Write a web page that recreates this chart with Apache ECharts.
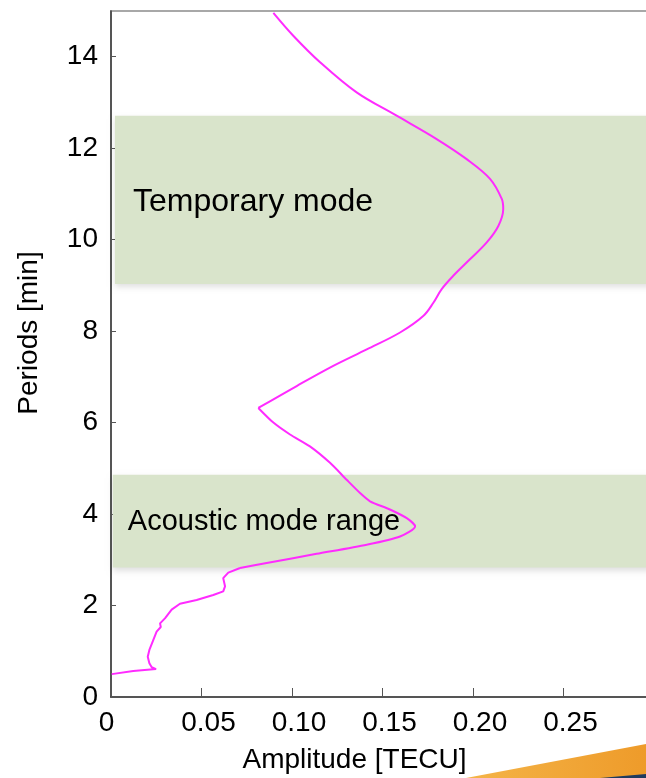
<!DOCTYPE html>
<html>
<head>
<meta charset="utf-8">
<script src="https://cdn.jsdelivr.net/npm/echarts@6/dist/echarts.min.js"></script>
<style>
  html, body { margin: 0; padding: 0; background: #ffffff; }
  #chart { width: 646px; height: 778px; }
</style>
</head>
<body>
<div id="chart"></div>
<script>
// Spectrum of TEC oscillation amplitude against period
const amplitude = [
  0.0897, 0.1007, 0.1155, 0.1357, 0.1578, 0.1799, 0.1965, 0.2094, 0.2159, 0.2167,
  0.2140, 0.2076, 0.1983, 0.1891, 0.1827, 0.1781, 0.1725, 0.1597, 0.1413, 0.1228,
  0.1026, 0.0814, 0.0897, 0.0989, 0.1099, 0.1210, 0.1302, 0.1376, 0.1431, 0.1541,
  0.1634, 0.1680, 0.1597, 0.1413, 0.1136, 0.0860, 0.0713, 0.0648, 0.0620, 0.0630,
  0.0620, 0.0565, 0.0473, 0.0381, 0.0335, 0.0298, 0.0271, 0.0275, 0.0252, 0.0234,
  0.0212, 0.0203, 0.0212, 0.0225, 0.0249, 0.0123, 0.0004
];
const period = [
  14.96, 14.46, 13.88, 13.22, 12.71, 12.20, 11.76, 11.33, 10.89, 10.67,
  10.30, 9.94, 9.57, 9.21, 8.92, 8.62, 8.33, 7.97, 7.60, 7.24,
  6.80, 6.32, 6.00, 5.74, 5.48, 5.12, 4.75, 4.46, 4.28, 4.10,
  3.91, 3.73, 3.51, 3.33, 3.13, 2.93, 2.82, 2.72, 2.60, 2.42,
  2.31, 2.23, 2.12, 2.04, 1.91, 1.72, 1.61, 1.53, 1.43, 1.25,
  1.03, 0.88, 0.74, 0.65, 0.61, 0.57, 0.50
];

// Highlighted period ranges
const bandNames = ['Temporary mode', 'Acoustic mode range'];
const bandFrom = [0.0022, 0.001];
const bandTop = [12.71, 4.86];
const bandBottom = [9.03, 2.83];

const xTickLabels = ['0', '0.05', '0.10', '0.15', '0.20', '0.25', '0.30'];
const yTickLabels = ['0', '2', '4', '6', '8', '10', '12', '14'];

const FONT = '"Liberation Sans", Arial, Helvetica, sans-serif';
const LINE_COLOR = '#ff2bff';

const points = amplitude.map((a, i) => [a, period[i]]);

// The trace is drawn in pieces so that the sharp turn near 6.3 min and the
// ragged low-period tail keep their corners while the long arcs stay smooth.
const pieces = [
  { from: 0, to: 21, smooth: 0.35 },
  { from: 21, to: 36, smooth: 0.25 },
  { from: 36, to: points.length - 1, smooth: 0 }
];

const bandLabelStyle = [
  { fontSize: 32, offset: [13, 2] },
  { fontSize: 29, offset: [10, 1] }
];

const areas = bandNames.map((name, i) => [
  {
    name: name,
    xAxis: bandFrom[i],
    yAxis: bandTop[i],
    label: {
      show: true,
      position: 'insideLeft',
      color: '#000',
      fontFamily: FONT,
      fontSize: bandLabelStyle[i].fontSize,
      offset: bandLabelStyle[i].offset
    }
  },
  { xAxis: 0.3, yAxis: bandBottom[i] }
]);

const series = pieces.map((p, k) => {
  const s = {
    type: 'line',
    data: points.slice(p.from, p.to + 1),
    showSymbol: false,
    smooth: p.smooth,
    z: 3,
    lineStyle: { color: LINE_COLOR, width: 2 }
  };
  if (k === 0) {
    s.markArea = {
      silent: true,
      z: 1,
      itemStyle: {
        color: '#d9e4cb',
        shadowColor: 'rgba(0,0,0,0.12)',
        shadowBlur: 6,
        shadowOffsetY: 3
      },
      data: areas
    };
  }
  return s;
});

const chart = echarts.init(document.getElementById('chart'), null, { renderer: 'canvas' });

chart.setOption({
  animation: false,
  backgroundColor: '#ffffff',
  textStyle: { fontFamily: FONT },
  grid: {
    left: 111,
    top: 11,
    width: 543,
    height: 686,
    show: true,
    borderColor: '#a8a8a8',
    borderWidth: 2,
    backgroundColor: 'transparent',
    containLabel: false,
    outerBoundsMode: 'none'
  },
  xAxis: {
    type: 'value',
    min: 0,
    max: 0.3,
    interval: 0.05,
    name: 'Amplitude [TECU]',
    nameLocation: 'middle',
    nameGap: 49,
    nameTextStyle: { fontSize: 28, color: '#000', fontFamily: FONT, padding: [0, 56, 0, 0] },
    axisLine: { show: true, onZero: false, lineStyle: { color: '#3a3a3a', width: 1.5 } },
    axisTick: { show: true, inside: true, length: 9, lineStyle: { color: '#555', width: 1 } },
    splitLine: { show: false },
    axisLabel: {
      margin: 12,
      showMaxLabel: false,
      formatter: function (v) {
        const idx = Math.round(v / 0.05);
        const txt = xTickLabels[idx] !== undefined ? xTickLabels[idx] : '';
        return idx === 0 ? '{z|' + txt + '}' : '{n|' + txt + '}';
      },
      rich: {
        z: { fontSize: 28, color: '#000', fontFamily: FONT, padding: [0, 9, 0, 0] },
        n: { fontSize: 28, color: '#000', fontFamily: FONT, padding: [0, 0, 0, 14] }
      }
    }
  },
  yAxis: {
    type: 'value',
    min: 0,
    max: 15,
    interval: 2,
    name: 'Periods [min]',
    nameLocation: 'middle',
    nameRotate: 90,
    nameGap: 68,
    nameTextStyle: { fontSize: 28, color: '#000', fontFamily: FONT, padding: [0, 0, 0, 42] },
    axisLine: { show: true, onZero: false, lineStyle: { color: '#3a3a3a', width: 1.5 } },
    axisTick: { show: true, inside: true, length: 5, lineStyle: { color: '#555', width: 1 } },
    splitLine: { show: false },
    axisLabel: {
      margin: 13,
      showMaxLabel: false,
      fontSize: 28,
      color: '#000',
      fontFamily: FONT,
      formatter: function (v) {
        const idx = Math.round(v / 2);
        return yTickLabels[idx] !== undefined ? yTickLabels[idx] : '';
      }
    }
  },
  series: series,
  graphic: [
    {
      type: 'polygon',
      silent: true,
      shape: { points: [[560, 778], [646, 768], [646, 778]] },
      style: { fill: '#1f3a5f' }
    },
    {
      type: 'polygon',
      silent: true,
      shape: { points: [[466, 778], [646, 744], [646, 774], [600, 778]] },
      style: {
        fill: new echarts.graphic.LinearGradient(0, 0, 1, 0, [
          { offset: 0, color: '#f4b448' },
          { offset: 1, color: '#ee9b2a' }
        ])
      }
    }
  ]
});
</script>
</body>
</html>
